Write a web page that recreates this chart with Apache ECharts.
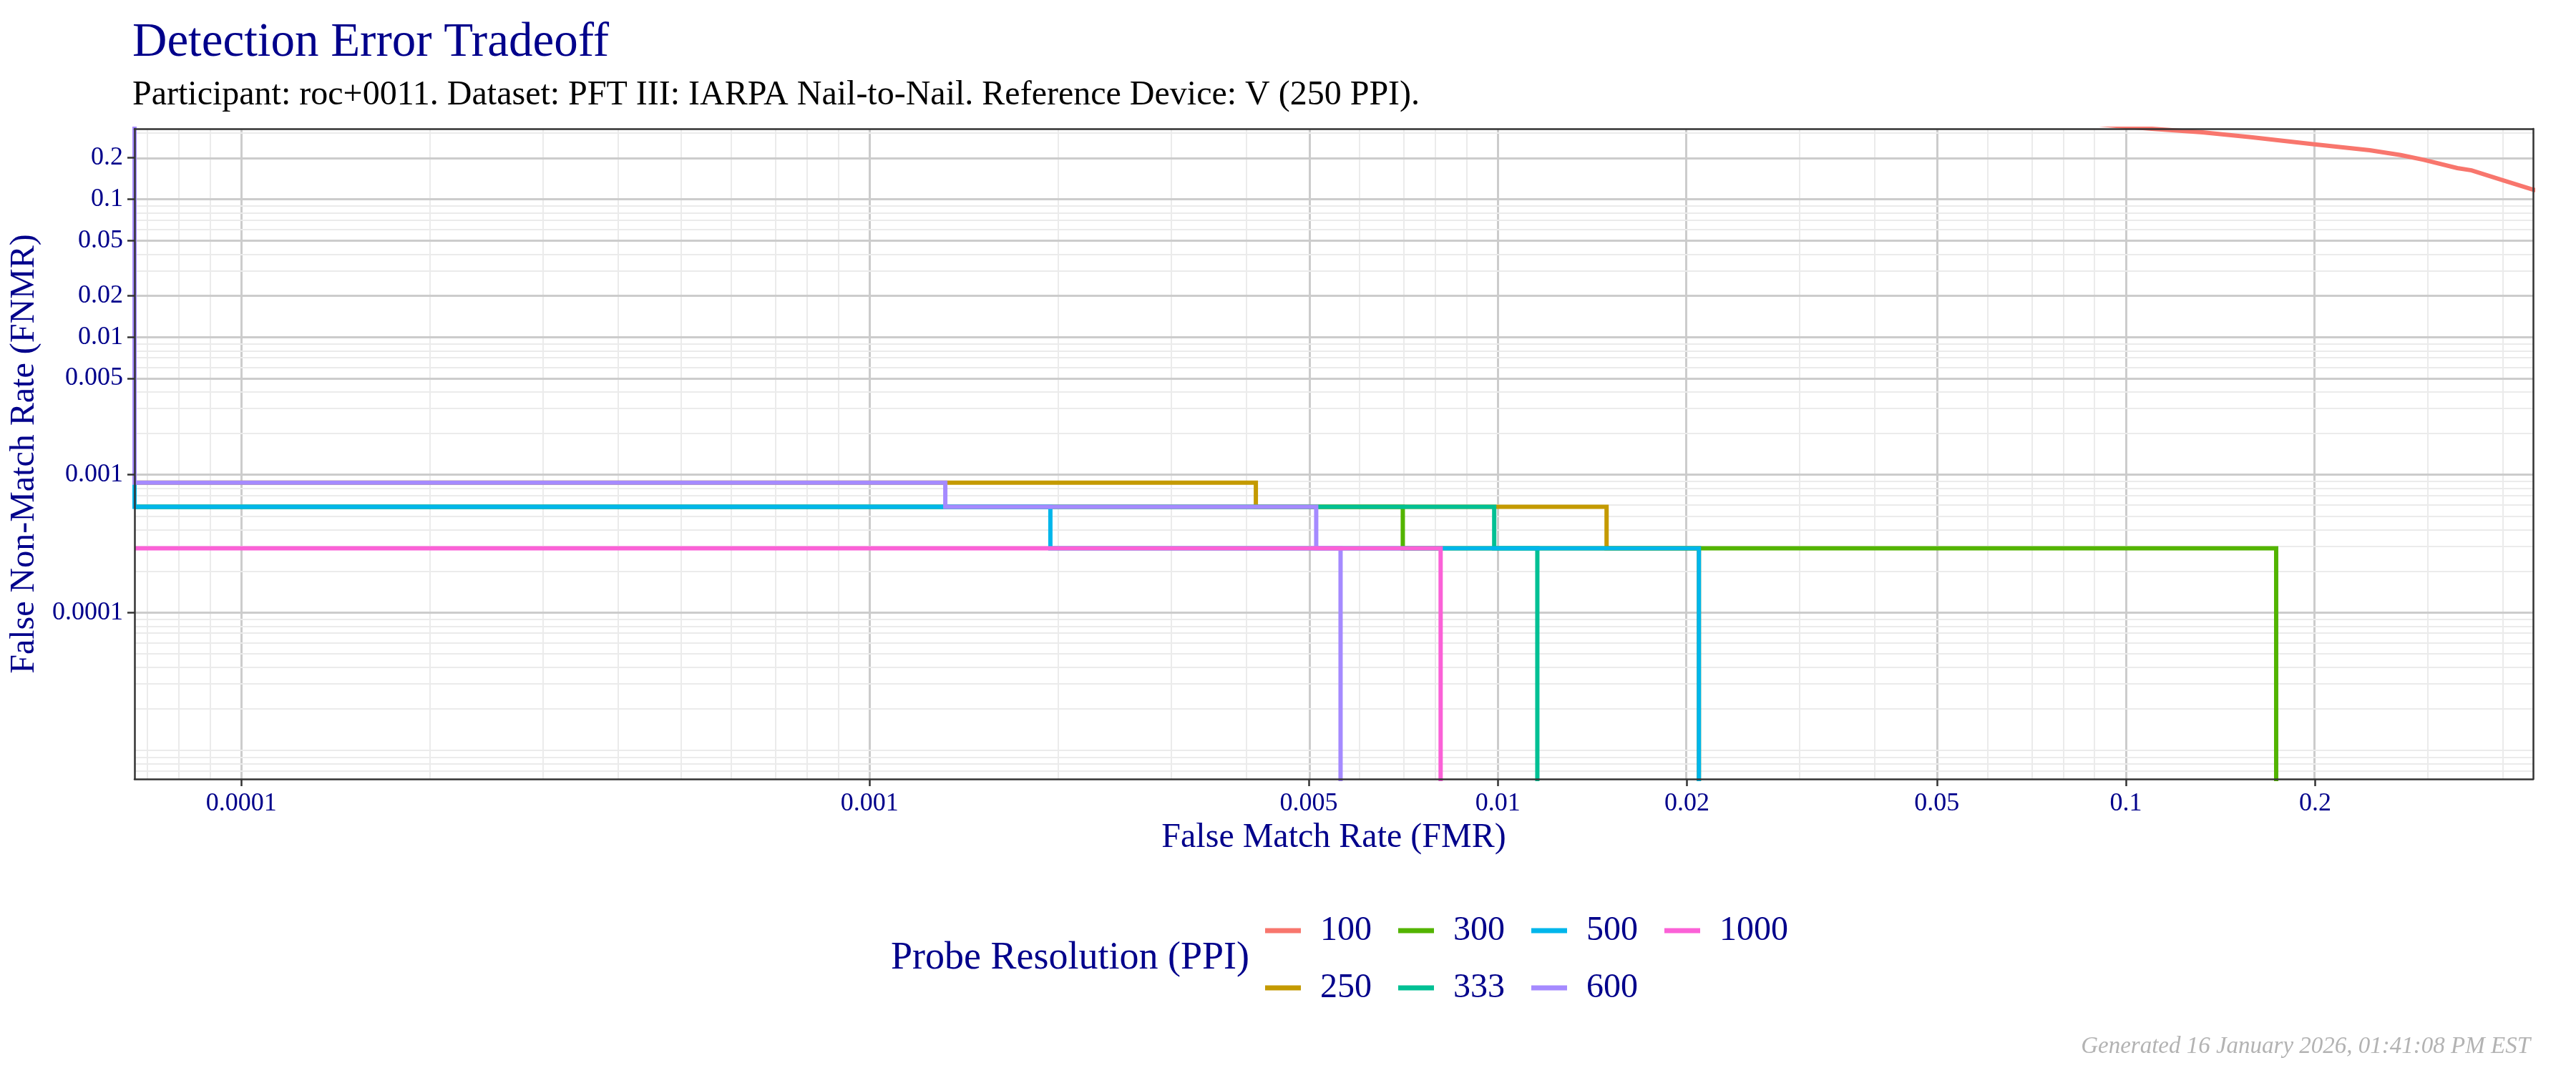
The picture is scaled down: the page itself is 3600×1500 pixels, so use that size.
<!DOCTYPE html>
<html>
<head>
<meta charset="utf-8">
<title>Detection Error Tradeoff</title>
<script src="https://cdn.jsdelivr.net/npm/echarts@6/dist/echarts.min.js"></script>
<style>
    html, body { margin: 0; padding: 0; background: #fff; }
    #chart { width: 3600px; height: 1500px; }
</style>
</head>
<body>
<div id="chart"></div>
<script>
// series names (probe resolution) and their colours
var ppiNames = ['100', '250', '300', '333', '500', '600', '1000'];
var ppiColors = ['#F8766D', '#C49A00', '#53B400', '#00C094', '#00B6EB', '#A58AFF', '#FB61D7'];

// DET points; 0 means off the scale (drawn on the border)
var fmr100  = [0.09, 0.1099, 0.1324, 0.158, 0.1995, 0.2443, 0.2737, 0.2977, 0.3368, 0.3548, 0.4018, 0.4436, 0.5];
var fnmr100 = [0.35, 0.325, 0.306, 0.2826, 0.2506, 0.2269, 0.2094, 0.1935, 0.1683, 0.1622, 0.1357, 0.1178, 0.105];

var fmr250  = [0, 0, 0.00412, 0.00412, 0.0149, 0.0149, 0.0209, 0.0209, 1];
var fnmr250 = [0.002, 0.000876, 0.000876, 0.000584, 0.000584, 0.000292, 0.000292, 0, 0];

var fmr300  = [0, 0.00706, 0.00706, 0.1734, 0.1734, 1];
var fnmr300 = [0.000584, 0.000584, 0.000292, 0.000292, 0, 0];

var fmr333  = [0, 0.00987, 0.00987, 0.01156, 0.01156, 1];
var fnmr333 = [0.000584, 0.000584, 0.000292, 0.000292, 0, 0];

var fmr500  = [0, 0, 0.00194, 0.00194, 0.0209, 0.0209, 1];
var fnmr500 = [0.0024, 0.000584, 0.000584, 0.000292, 0.000292, 0, 0];

var fmr600  = [0, 0, 0.00132, 0.00132, 0.00514, 0.00514, 0.00562, 0.00562, 1];
var fnmr600 = [1, 0.000876, 0.000876, 0.000584, 0.000584, 0.000292, 0.000292, 0, 0];

var fmr1000  = [0, 0.00811, 0.00811, 1];
var fnmr1000 = [0.000292, 0.000292, 0, 0];

// labelled breaks
var xTicks = [0.0001, 0.001, 0.005, 0.01, 0.02, 0.05, 0.1, 0.2];
var yTicks = [0.0001, 0.001, 0.005, 0.01, 0.02, 0.05, 0.1, 0.2];

// axis limits
var XMIN = 6.76e-5, XMAX = 0.4446;
var YMIN = 6.17e-6, YMAX = 0.325;
// zero FMR sits on the left border, zero FNMR just under the bottom border
var X_OFF = XMIN, Y_OFF = YMIN * 0.887;

var FONT = '"Liberation Serif", "DejaVu Serif", serif';
var NAVY = '#00008B';
var FRAME = { color: '#333333', width: 2.5 };

var fmrList = [fmr100, fmr250, fmr300, fmr333, fmr500, fmr600, fmr1000];
var fnmrList = [fnmr100, fnmr250, fnmr300, fnmr333, fnmr500, fnmr600, fnmr1000];

function lg(v) { return Math.log(v) / Math.LN10; }

function toPoints(xs, ys) {
    var pts = [];
    for (var i = 0; i < xs.length; i++) {
        pts.push([lg(Math.max(xs[i], X_OFF)), lg(Math.max(ys[i], Y_OFF))]);
    }
    return pts;
}

function fmtTick(v) {
    return String(Number(Math.pow(10, v).toPrecision(6)));
}

// grid lines: labelled breaks are major, every other k*10^n is minor
function gridLines(lo, hi, majors, axisKey) {
    var out = [];
    var majorLog = majors.map(lg);
    for (var n = -7; n <= 0; n++) {
        for (var k = 1; k <= 9; k++) {
            var v = k * Math.pow(10, n);
            if (v <= lo || v >= hi) continue;
            var lv = lg(v);
            var isMajor = majorLog.some(function (m) { return Math.abs(m - lv) < 1e-9; });
            if (isMajor) continue;
            var item = {};
            item[axisKey] = lv;
            item.lineStyle = { color: '#EBEBEB', width: 2, type: 'solid' };
            out.push(item);
        }
    }
    majors.forEach(function (v) {
        var item = {};
        item[axisKey] = lg(v);
        item.lineStyle = { color: '#CCCCCC', width: 3, type: 'solid' };
        out.push(item);
    });
    return out;
}

var series = [{
    name: 'grid',
    type: 'line',
    data: [],
    z: 1,
    silent: true,
    markLine: {
        silent: true,
        z: 1,
        symbol: ['none', 'none'],
        label: { show: false },
        emphasis: { disabled: true },
        animation: false,
        data: gridLines(XMIN, XMAX, xTicks, 'xAxis').concat(gridLines(YMIN, YMAX, yTicks, 'yAxis'))
    }
}];

for (var i = 0; i < ppiNames.length; i++) {
    series.push({
        name: ppiNames[i],
        type: 'line',
        z: 3 + i,
        showSymbol: false,
        symbol: 'none',
        clip: true,
        color: ppiColors[i],
        itemStyle: { color: ppiColors[i] },
        lineStyle: { color: ppiColors[i], width: 6, join: 'miter', cap: 'butt' },
        emphasis: { disabled: true },
        data: toPoints(fmrList[i], fnmrList[i])
    });
}

var legendBase = {
    orient: 'horizontal',
    left: 1763,
    icon: 'rect',
    itemWidth: 50,
    itemHeight: 7,
    itemGap: 37,
    selectedMode: false,
    textStyle: { fontFamily: FONT, fontSize: 48, color: NAVY, padding: [0, 0, 0, 22] }
};

// plain frame axis for the top / right edges of the panel
function frameAxis(pos, lo, hi) {
    return {
        type: 'value', position: pos, min: lo, max: hi, z: 10,
        axisLine: { show: true, onZero: false, lineStyle: FRAME },
        axisTick: { show: false }, axisLabel: { show: false },
        splitLine: { show: false }
    };
}

var option = {
    animation: false,
    backgroundColor: '#ffffff',
    title: [{
        text: 'Detection Error Tradeoff',
        left: 180, top: 22,
        textStyle: { fontFamily: FONT, fontSize: 67, fontWeight: 'normal', color: NAVY }
    }, {
        text: 'Participant: roc+0011. Dataset: PFT III: IARPA Nail-to-Nail. Reference Device: V (250 PPI).',
        left: 180, top: 104,
        textStyle: { fontFamily: FONT, fontSize: 48, fontWeight: 'normal', color: '#000000' }
    }, {
        text: 'Probe Resolution (PPI)',
        left: 1240, top: 1308,
        textStyle: { fontFamily: FONT, fontSize: 54, fontWeight: 'normal', color: NAVY }
    }, {
        text: 'Generated 16 January 2026, 01:41:08 PM EST',
        right: 59, top: 1442,
        textStyle: { fontFamily: FONT, fontSize: 33, fontStyle: 'italic', fontWeight: 'normal', color: '#B3B3B3' }
    }],
    legend: [
        Object.assign({}, legendBase, { top: 1272, data: ['100', '300', '500', '1000'] }),
        Object.assign({}, legendBase, { top: 1352, data: ['250', '333', '600'] })
    ],
    grid: {
        left: 188, right: 60, top: 180, bottom: 411,
        outerBoundsMode: 'none',
        containLabel: false,
        show: false
    },
    xAxis: [{
        type: 'value',
        z: 10,
        min: lg(XMIN), max: lg(XMAX),
        name: 'False Match Rate (FMR)',
        nameLocation: 'middle',
        nameGap: 56,
        nameTextStyle: { fontFamily: FONT, fontSize: 48, color: NAVY },
        axisLine: { show: true, onZero: false, lineStyle: FRAME },
        axisTick: { show: true, inside: false, length: 10, customValues: xTicks.map(lg), lineStyle: FRAME },
        axisLabel: { show: true, margin: 17, customValues: xTicks.map(lg), formatter: fmtTick,
                     fontFamily: FONT, fontSize: 36, color: NAVY },
        splitLine: { show: false },
        minorSplitLine: { show: false }
    }, frameAxis('top', lg(XMIN), lg(XMAX))],
    yAxis: [{
        type: 'value',
        z: 10,
        min: lg(YMIN), max: lg(YMAX),
        name: 'False Non-Match Rate (FNMR)',
        nameLocation: 'middle',
        nameRotate: 90,
        nameGap: 130,
        nameTextStyle: { fontFamily: FONT, fontSize: 48, color: NAVY },
        axisLine: { show: true, onZero: false, lineStyle: FRAME },
        axisTick: { show: true, inside: false, length: 10, customValues: yTicks.map(lg), lineStyle: FRAME },
        axisLabel: { show: true, margin: 16, customValues: yTicks.map(lg), formatter: fmtTick,
                     fontFamily: FONT, fontSize: 36, color: NAVY },
        splitLine: { show: false },
        minorSplitLine: { show: false }
    }, frameAxis('right', lg(YMIN), lg(YMAX))],
    series: series
};

var myChart = echarts.init(document.getElementById('chart'), null, { renderer: 'canvas' });
myChart.setOption(option);
</script>
</body>
</html>
